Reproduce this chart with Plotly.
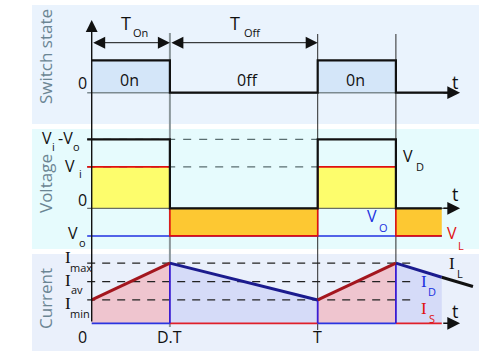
import plotly.graph_objects as go

W, H = 500, 354
FONT = "Open Sans"

# ---------------- data (time in units of the period T) ----------------
D = 0.346            # duty cycle
T_TICK = -0.02       # small tick left of the vertical axis
T_END = 1.549        # end of the drawn voltage / current waveforms
T_IL_END = 1.687     # end of the I_L line
T_SW_END = 1.608     # end of the switch baseline
T_ARROW = 1.63       # tip of the t arrows
T_DASH_I = 1.43      # end of current dashed levels

switch_t = [0, D, D, 1, 1, 1 + D, 1 + D, T_SW_END]
switch_v = [1, 1, 0, 0, 1, 1, 0, 0]
on_intervals = [(0, D), (1, 1 + D)]
off_intervals = [(D, 1), (1 + D, T_END)]

Vi, Vo = 1.5, -1.0
VD_t = [T_TICK, D, D, 1, 1, 1 + D, 1 + D, T_END]
VD_v = [Vi - Vo, Vi - Vo, 0, 0, Vi - Vo, Vi - Vo, 0, 0]
VL_t = [T_TICK, D, D, 1, 1, 1 + D, 1 + D, T_END]
VL_v = [Vi, Vi, Vo, Vo, Vi, Vi, Vo, Vo]

Imin, Iav, Imax = 1.27, 2.27, 3.27
IL_t = [0, D, 1, 1 + D, T_END, T_IL_END]
IL_v = [Imin, Imax, Imin, Imax, 2.5, 2.0]
IL_seg_colors = ["#a3161e", "#1b1b8e", "#a3161e", "#1b1b8e", "#111111"]

# ---------------- layout helpers ----------------
X0, PXT = 91.7, 226.0          # pixel of t=0, pixels per period


def yrange(p0, unit):
    return [-(H - p0) / unit, p0 / unit]


def px(x, y):
    return x / W, 1 - y / H


fig = go.Figure()


def add(x, y, ax, **kw):
    fig.add_trace(go.Scatter(x=x, y=y, yaxis=ax, mode="lines",
                             hoverinfo="skip", showlegend=False, **kw))


# ---- panel backgrounds ----
shapes = []
for (y0, y1, col) in [(5, 124, "#eaf3fd"), (129, 249, "#e6fbfd"), (254, 351, "#eaf0fb")]:
    shapes.append(dict(type="rect", xref="paper", yref="paper",
                       x0=32 / W, x1=479 / W, y0=1 - y1 / H, y1=1 - y0 / H,
                       fillcolor=col, line=dict(width=0), layer="below"))
# vertical guide lines
for (t, y0, y1, col, w) in [(D, 33, 327, "#8c979b", 2), (1, 34, 330, "#2a2a2a", 1),
                            (1 + D, 34, 323, "#2a2a2a", 1)]:
    shapes.append(dict(type="line", xref="x", yref="paper", x0=t, x1=t,
                       y0=1 - y1 / H, y1=1 - y0 / H,
                       line=dict(color=col, width=w), layer="below"))

# ---------------- switch state ----------------
for a, b in on_intervals:
    add([a, b, b, a, a], [0, 0, 1, 1, 0], "y", fill="toself",
        fillcolor="#d4e6f9", line=dict(width=0))
add([T_TICK, T_SW_END], [0, 0], "y", line=dict(color="#7c8a90", width=1.5))
add(switch_t, switch_v, "y", line=dict(color="#111111", width=2.2))

# ---------------- voltage ----------------
for a, b in on_intervals:
    add([a, b, b, a, a], [0, 0, Vi, Vi, 0], "y2", fill="toself",
        fillcolor="#fdfd6c", line=dict(width=0))
for a, b in off_intervals:
    add([a, b, b, a, a], [Vo, Vo, 0, 0, Vo], "y2", fill="toself",
        fillcolor="#fdc832", line=dict(width=0))
for lvl in [Vi - Vo, Vi]:
    add([T_TICK, 1], [lvl, lvl], "y2",
        line=dict(color="#5a6e70", width=1.2, dash="8px,8px"))
add([T_TICK, T_ARROW - 0.02], [0, 0], "y2", line=dict(color="#4a4a4a", width=1))
add([T_TICK, T_END], [Vo, Vo], "y2", line=dict(color="#2030e0", width=1.5))
add(VL_t, VL_v, "y2", line=dict(color="#e01010", width=1.6))
add(VD_t, VD_v, "y2", line=dict(color="#111111", width=2.2))

# ---------------- current ----------------
for a, b in [(0, 1), (2, 3)]:
    add([IL_t[a], IL_t[b], IL_t[b], IL_t[a], IL_t[a]], [0, 0, IL_v[b], IL_v[a], 0],
        "y3", fill="toself", fillcolor="#efc5cf", line=dict(width=0))
for a, b in [(1, 2), (3, 4)]:
    add([IL_t[a], IL_t[b], IL_t[b], IL_t[a], IL_t[a]], [0, 0, IL_v[b], IL_v[a], 0],
        "y3", fill="toself", fillcolor="#d5dbf8", line=dict(width=0))
for lvl in [Imax, Iav, Imin]:
    add([T_TICK, T_DASH_I], [lvl, lvl], "y3",
        line=dict(color="#222222", width=1.2, dash="8px,7px"))
for a, b in off_intervals:
    add([a, b], [0, 0], "y3", line=dict(color="#e0202a", width=1.8))
for a, b in on_intervals:
    add([a, b], [0, 0], "y3", line=dict(color="#2b35e0", width=1.8))
for k in [1, 2, 3]:
    add([IL_t[k], IL_t[k]], [0, IL_v[k]], "y3", line=dict(color="#3a1cd2", width=1.8))
for k in range(len(IL_t) - 1):
    add(IL_t[k:k + 2], IL_v[k:k + 2], "y3",
        line=dict(color=IL_seg_colors[k], width=3))

# ---------------- annotations ----------------
ann = []


def arrow(x, y, ax_, ay_, yref, xref="x", axref="x", ayref=None, width=1.5, size=1.7, side="end"):
    ann.append(dict(x=x, y=y, xref=xref, yref=yref, ax=ax_, ay=ay_,
                    axref=axref, ayref=ayref if ayref else yref,
                    showarrow=True, arrowhead=2, arrowsize=size, arrowwidth=width,
                    arrowcolor="#111111", arrowside=side, text=""))


# time arrows on each baseline
arrow(T_ARROW, 0, 1.55, 0, "y")
arrow(T_ARROW, 0, 1.55, 0, "y2")
arrow(T_ARROW, 0, T_END, 0, "y3")
# vertical axis
ann.append(dict(x=0, y=(92.7 - 20) / 32.4, xref="x", yref="y", ax=0, ay=303,
                axref="pixel", ayref="pixel", showarrow=True, arrowhead=2,
                arrowsize=1.7, arrowwidth=1.4, arrowcolor="#111111", text=""))
# T_on / T_off dimension arrows
Y_DIM = (92.7 - 42.7) / 32.4
arrow(D, Y_DIM, 0, Y_DIM, "y", width=1, size=2.4, side="end+start")
arrow(1, Y_DIM, D, Y_DIM, "y", width=1, size=2.4, side="end+start")


def txt(x, y, s, size=16, color="#111111", family=FONT, angle=0):
    X, Y = px(x, y)
    ann.append(dict(x=X, y=Y, xref="paper", yref="paper", text=s, showarrow=False,
                    xanchor="center", yanchor="middle", textangle=angle, borderpad=0,
                    font=dict(size=size, color=color, family=family)))


SUB = 11
TITLE_C = "#6b8593"
# axis titles
txt(45, 57, "Switch state", 17, TITLE_C, angle=-90)
txt(45, 184, "Voltage", 17, TITLE_C, angle=-90)
txt(45, 299, "Current", 17, TITLE_C, angle=-90)

# switch panel
txt(126, 23, "T", 18); txt(140, 33, "On", SUB)
txt(235, 23, "T", 18); txt(252, 33, "Off", SUB)
txt(129, 80, "0n", 16); txt(247, 80, "0ff", 16); txt(355, 80, "0n", 16)
txt(82.5, 83, "0", 16)
txt(455, 82, "t", 18)

# voltage panel
txt(47, 138.5, "V", 16); txt(53.5, 146, "i", SUB)
txt(65, 138.5, "-V", 16); txt(76.5, 146, "o", SUB)
txt(70, 166, "V", 16); txt(80, 173, "i", SUB)
txt(82.5, 199.5, "0", 16)
txt(72.5, 233, "V", 16); txt(82, 243, "o", SUB)
txt(408, 156, "V", 16); txt(420, 166, "D", SUB)
txt(455, 194, "t", 18)
txt(372, 216, "V", 16, "#2030e0"); txt(383.5, 227.5, "O", SUB, "#2030e0")
txt(452, 233.5, "V", 16, "#e01010"); txt(461, 245, "L", SUB, "#e01010")

# current panel
SERIF = "Liberation Serif"
txt(67.5, 257.5, "I", 17, family=SERIF); txt(80.5, 267, "max", SUB)
txt(67.5, 280.5, "I", 17, family=SERIF); txt(77, 289.5, "av", SUB)
txt(67.5, 303.5, "I", 17, family=SERIF); txt(79.5, 313, "min", SUB)
txt(82.5, 337, "0", 16); txt(169.5, 337, "D.T", 16); txt(317.7, 337, "T", 16)
txt(452, 263, "I", 17, family=SERIF); txt(459.5, 273.5, "L", SUB)
txt(424, 281.5, "I", 17, "#2030e0", family=SERIF); txt(431.5, 291.5, "D", SUB, "#2030e0")
txt(424, 308.5, "I", 17, "#e01010", family=SERIF); txt(431.5, 318, "S", SUB, "#e01010")
txt(455, 311, "t", 18)

hidden = dict(visible=False, fixedrange=True)
fig.update_layout(
    width=W, height=H, margin=dict(l=0, r=0, t=0, b=0),
    paper_bgcolor="white", plot_bgcolor="rgba(0,0,0,0)",
    xaxis=dict(range=[-X0 / PXT, (W - X0) / PXT], **hidden),
    yaxis=dict(range=yrange(92.7, 32.4), domain=[0, 1], **hidden),
    yaxis2=dict(range=yrange(208.3, 27.6), overlaying="y", **hidden),
    yaxis3=dict(range=yrange(323.3, 18.4), overlaying="y", **hidden),
    shapes=shapes, annotations=ann, showlegend=False,
)

fig.write_html("out.html")
